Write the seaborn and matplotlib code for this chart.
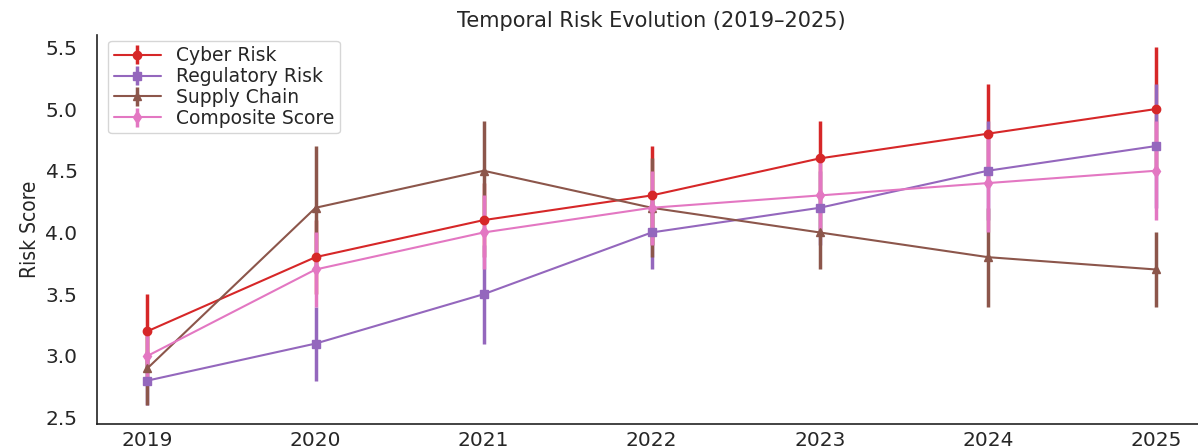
import matplotlib
matplotlib.use("Agg")
import matplotlib.pyplot as plt
import seaborn as sns

years = [2019, 2020, 2021, 2022, 2023, 2024, 2025]

cyber = [3.2, 3.8, 4.1, 4.3, 4.6, 4.8, 5.0]
cyber_err = [0.3, 0.3, 0.3, 0.4, 0.3, 0.4, 0.5]

regulatory = [2.8, 3.1, 3.5, 4.0, 4.2, 4.5, 4.7]
regulatory_err = [0.2, 0.3, 0.4, 0.3, 0.3, 0.4, 0.5]

supply = [2.9, 4.2, 4.5, 4.2, 4.0, 3.8, 3.7]
supply_err = [0.3, 0.5, 0.4, 0.4, 0.3, 0.4, 0.3]

composite = [3.0, 3.7, 4.0, 4.2, 4.3, 4.4, 4.5]
composite_err = [0.2, 0.3, 0.3, 0.3, 0.3, 0.4, 0.4]

series = [
    ("Cyber Risk", cyber, cyber_err, "o"),
    ("Regulatory Risk", regulatory, regulatory_err, "s"),
    ("Supply Chain", supply, supply_err, "^"),
    ("Composite Score", composite, composite_err, "d"),
]

sns.set_style("white")
palette = [sns.color_palette("tab10")[i] for i in (3, 4, 5, 6)]

fig = plt.figure(figsize=(11.98, 4.48), dpi=100)
ax = fig.add_axes([0.081, 0.054, 0.926, 0.868])

for (name, vals, errs, mk), col in zip(series, palette):
    ax.errorbar(years, vals, yerr=errs, label=name, color=col, marker=mk,
                markersize=6, linewidth=1.5, elinewidth=2.5, capsize=0)

ax.set_xlim(2018.7, 2025.3)
ax.set_ylim(2.45, 5.6)
ax.set_xticks(years)
ax.set_xticklabels([str(y) for y in years], fontsize=14.5)
ax.set_yticks([2.5, 3.0, 3.5, 4.0, 4.5, 5.0, 5.5])
ax.set_yticklabels(["2.5", "3.0", "3.5", "4.0", "4.5", "5.0", "5.5"], fontsize=14.5)
ax.tick_params(axis="y", length=0, pad=14)
ax.tick_params(axis="x", length=0, pad=5)
ax.set_ylabel("Risk Score", fontsize=15, family="DejaVu Sans",
              fontstretch="condensed", labelpad=4)
ax.set_title("Temporal Risk Evolution (2019–2025)", fontsize=15, pad=6)

for s in ("top", "right"):
    ax.spines[s].set_visible(False)
for s in ("left", "bottom"):
    ax.spines[s].set_color("#222222")
    ax.spines[s].set_linewidth(1.2)

ax.legend(loc="upper left", fontsize=13.5, frameon=True, borderaxespad=0.3,
          handlelength=2.5, labelspacing=0.1, borderpad=0.3,
          bbox_to_anchor=(0.005, 1.0))

fig.savefig("out.png", dpi=100)
